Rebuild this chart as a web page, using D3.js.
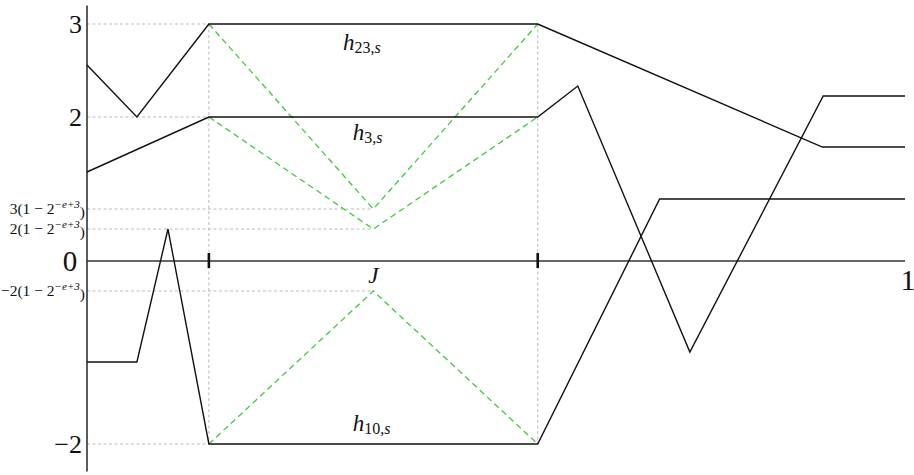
<!DOCTYPE html>
<html>
<head>
<meta charset="utf-8">
<script src="https://cdn.jsdelivr.net/npm/d3@7"></script>
<style>
  body { margin: 0; background: #fff; }
  svg text { font-family: "Liberation Serif", "DejaVu Serif", serif; fill: #111; }
</style>
</head>
<body>
<svg id="chart"></svg>
<script>
// interval J = [a, b], midpoint m
const jStart = 0.149, jEnd = 0.551, jMid = 0.35;
// symbolic levels (schematic values)
const level3c = 0.722, level2c = 0.444, levelNeg2c = -0.328;

const h23 = [[0, 2.56], [0.061, 2], [jStart, 3], [jEnd, 3], [0.899, 1.583], [1, 1.583]];
const h3 = [[0, 1.236], [jStart, 2], [jEnd, 2], [0.600, 2.333], [0.737, -0.995], [0.900, 2.226], [1, 2.226]];
const h10 = [[0, -1.104], [0.061, -1.104], [0.099, level2c], [jStart, -2], [jEnd, -2], [0.700, 0.861], [1, 0.861]];

const greenTop = [[jStart, 3], [jMid, level3c], [jEnd, 3]];
const greenMid = [[jStart, 2], [jMid, level2c], [jEnd, 2]];
const greenBot = [[jStart, -2], [jMid, levelNeg2c], [jEnd, -2]];

const bigTicks = [{v: 3, t: "3"}, {v: 2, t: "2"}, {v: -2, t: "\u22122"}];
const smallTicks = [
  {v: level3c, pre: "3(1 \u2212 2", sup: "\u2212e+3"},
  {v: level2c, pre: "2(1 \u2212 2", sup: "\u2212e+3"},
  {v: levelNeg2c, pre: "\u22122(1 \u2212 2", sup: "\u2212e+3"}
];
// dashed guides: [y value, x end]
const hGuides = [[3, jStart], [2, jStart], [-2, jStart], [level3c, jMid], [level2c, jMid], [levelNeg2c, jMid]];
const vGuides = [jStart, jEnd];

const curveLabels = [
  {x: 0.313, y: 2.72, sub: "23,", s: "s"},
  {x: 0.325, y: 1.68, sub: "3,", s: "s"},
  {x: 0.325, y: -1.858, sub: "10,", s: "s"}
];

const width = 914, height = 475;
const svg = d3.select("#chart").attr("width", width).attr("height", height);

const x = d3.scaleLinear().domain([0, 1]).range([87, 905]);
const y = d3.scaleLinear().domain([-2, 0, 2, 3]).range([444, 261, 117, 24]);

const line = d3.line().x(d => x(d[0])).y(d => y(d[1]));

// guides
svg.append("g").selectAll("line").data(hGuides).join("line")
  .attr("x1", x(0)).attr("x2", d => x(d[1]))
  .attr("y1", d => y(d[0])).attr("y2", d => y(d[0]))
  .attr("stroke", "#bbb").attr("stroke-width", 1).attr("stroke-dasharray", "3,2.5");
svg.append("g").selectAll("line").data(vGuides).join("line")
  .attr("x1", d => x(d)).attr("x2", d => x(d))
  .attr("y1", y(3)).attr("y2", y(-2))
  .attr("stroke", "#bbb").attr("stroke-width", 1).attr("stroke-dasharray", "3,2.5");

// axes
svg.append("line")
  .attr("x1", x(0)).attr("x2", x(0)).attr("y1", y(3.2)).attr("y2", y(-2.3))
  .attr("stroke", "#333").attr("stroke-width", 1.6);
svg.append("line")
  .attr("x1", x(0)).attr("x2", x(1)).attr("y1", y(0)).attr("y2", y(0))
  .attr("stroke", "#333").attr("stroke-width", 1.6);
svg.append("g").selectAll("line").data(vGuides).join("line")
  .attr("x1", d => x(d)).attr("x2", d => x(d))
  .attr("y1", y(0) - 8).attr("y2", y(0) + 7)
  .attr("stroke", "#111").attr("stroke-width", 2.6);

// green dashed
svg.append("g").selectAll("path").data([greenTop, greenMid, greenBot]).join("path")
  .attr("d", line).attr("fill", "none")
  .attr("stroke", "#3ccc3c").attr("stroke-width", 1.3).attr("stroke-dasharray", "6,4");

// curves
svg.append("g").selectAll("path").data([h23, h3, h10]).join("path")
  .attr("d", line).attr("fill", "none")
  .attr("stroke", "#111").attr("stroke-width", 1.4);

// y labels
svg.append("g").selectAll("text").data(bigTicks).join("text")
  .attr("x", 82).attr("y", d => y(d.v)).attr("dy", "0.35em")
  .attr("text-anchor", "end").attr("font-size", 26).text(d => d.t);
svg.append("text").attr("x", 70).attr("y", y(0)).attr("dy", "0.35em")
  .attr("text-anchor", "middle").attr("font-size", 29).text("0");

const small = svg.append("g").selectAll("text").data(smallTicks).join("text")
  .attr("x", 85).attr("y", d => y(d.v)).attr("dy", "0.35em")
  .attr("text-anchor", "end").attr("font-size", 15.5);
small.append("tspan").text(d => d.pre);
small.append("tspan").attr("font-size", 11).attr("dy", "-0.6em").attr("font-style", "italic").text(d => d.sup);
small.append("tspan").attr("dy", "0.6em").text(")");

// x labels
svg.append("text").attr("x", x(1) + 3).attr("y", y(0) + 29)
  .attr("text-anchor", "middle").attr("font-size", 30).text("1");
svg.append("text").attr("x", x(jMid)).attr("y", y(0) + 22)
  .attr("text-anchor", "middle").attr("font-size", 23).attr("font-style", "italic").text("J");

// curve names
const names = svg.append("g").selectAll("text").data(curveLabels).join("text")
  .attr("x", d => x(d.x)).attr("y", d => y(d.y)).attr("font-size", 23);
names.append("tspan").attr("font-style", "italic").text("h");
names.append("tspan").attr("font-size", 16).attr("dy", 3).text(d => d.sub);
names.append("tspan").attr("font-size", 16).attr("font-style", "italic").text(d => d.s);
</script>
</body>
</html>
